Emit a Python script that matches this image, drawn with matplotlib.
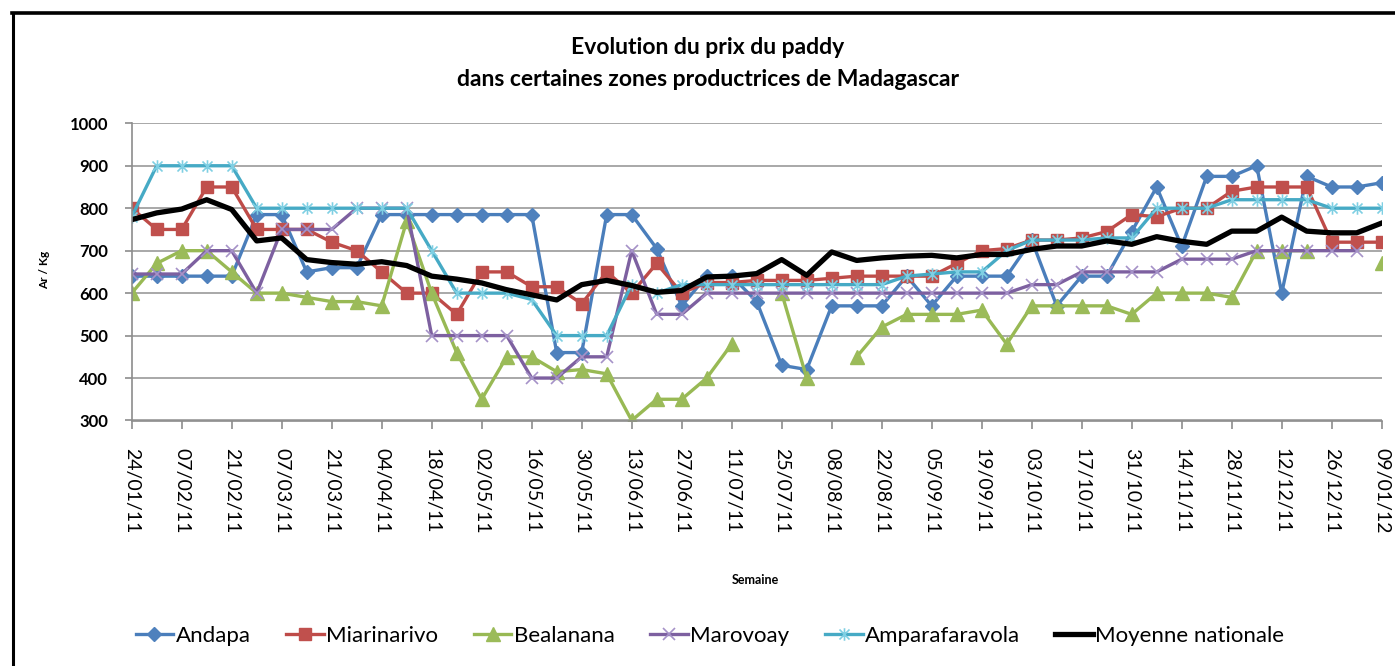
import numpy as np
import matplotlib
matplotlib.use("Agg")
import matplotlib.pyplot as plt
from matplotlib.path import Path
from matplotlib.lines import Line2D

plt.rcParams['font.family'] = ['Lato', 'DejaVu Sans']

weeks = ["24/01/11", "31/01/11", "07/02/11", "14/02/11", "21/02/11", "28/02/11", "07/03/11", "14/03/11",
         "21/03/11", "28/03/11", "04/04/11", "11/04/11", "18/04/11", "25/04/11", "02/05/11", "09/05/11",
         "16/05/11", "23/05/11", "30/05/11", "06/06/11", "13/06/11", "20/06/11", "27/06/11", "04/07/11",
         "11/07/11", "18/07/11", "25/07/11", "01/08/11", "08/08/11", "15/08/11", "22/08/11", "29/08/11",
         "05/09/11", "12/09/11", "19/09/11", "26/09/11", "03/10/11", "10/10/11", "17/10/11", "24/10/11",
         "31/10/11", "07/11/11", "14/11/11", "21/11/11", "28/11/11", "05/12/11", "12/12/11", "19/12/11",
         "26/12/11", "02/01/12", "09/01/12"]

nan = np.nan
andapa = [640, 640, 640, 640, 640, 785, 785, 650, 660, 660, 785, 785, 785, 785, 785, 785, 785, 460, 460, 785,
          785, 705, 570, 640, 640, 580, 430, 420, 570, 570, 570, 640, 570, 640, 640, 640, 725, 570, 640, 640,
          745, 850, 710, 875, 875, 900, 600, 875, 850, 850, 860]
miarinarivo = [800, 750, 750, 850, 850, 750, 750, 750, 720, 700, 650, 600, 600, 550, 650, 650, 615, 615, 575, 650,
               600, 670, 600, 625, 625, 630, 630, 630, 635, 640, 640, 640, 640, 670, 700, 705, 725, 725, 730, 745,
               785, 780, 800, 800, 840, 850, 850, 850, 720, 720, 720]
bealanana = [600, 670, 700, 700, 650, 600, 600, 590, 580, 580, 570, 770, 600, 460, 350, 450, 450, 415, 420, 410,
             300, 350, 350, 400, 480, nan, 600, 400, nan, 450, 520, 550, 550, 550, 560, 480, 570, 570, 570, 570,
             550, 600, 600, 600, 590, 700, 700, 700, nan, nan, 670]
marovoay = [645, 645, 645, 700, 700, 600, 750, 750, 750, 800, 800, 800, 500, 500, 500, 500, 400, 400, 450, 450,
            700, 550, 550, 600, 600, 600, 600, 600, 600, 600, 600, 600, 600, 600, 600, 600, 620, 620, 650, 650,
            650, 650, 680, 680, 680, 700, 700, 700, 700, 700, nan]
amparafaravola = [780, 900, 900, 900, 900, 800, 800, 800, 800, 800, 800, 800, 700, 600, 600, 600, 585, 500, 500, 500,
                  620, 600, 620, 620, 620, 620, 620, 620, 620, 620, 620, 640, 645, 650, 650, 700, 725, 725, 725, 730,
                  730, 800, 800, 800, 820, 820, 820, 820, 800, 800, 800]
moyenne = [773, 789, 798, 820, 797, 723, 730, 679, 672, 668, 674, 665, 640, 633, 624, 608, 596, 584, 620, 630,
           618, 602, 606, 638, 640, 646, 679, 642, 697, 677, 683, 687, 689, 683, 691, 691, 703, 711, 711, 723,
           715, 733, 722, 715, 746, 746, 779, 746, 742, 742, 765]

series_names = ["Andapa", "Miarinarivo", "Bealanana", "Marovoay", "Amparafaravola", "Moyenne nationale"]
yticks = [300, 400, 500, 600, 700, 800, 900, 1000]

W, H = 1395, 666
fig = plt.figure(figsize=(W / 100, H / 100), dpi=100)
ax = fig.add_axes([131.7 / W, 1 - 420.5 / H, (1381.7 - 131.7) / W, (420.5 - 123.3) / H])

x = np.arange(len(weeks))

star = Path([(0, -1), (0, 1), (-0.8, -0.8), (0.8, 0.8), (-0.8, 0.8), (0.8, -0.8)],
            [Path.MOVETO, Path.LINETO, Path.MOVETO, Path.LINETO, Path.MOVETO, Path.LINETO])

styles = [
    dict(color="#4A7EBB", marker="D", ms=7.5, mfc="#4F81BD", mec="#4F81BD", lw=2.4),
    dict(color="#BE4B48", marker="s", ms=9, mfc="#C0504D", mec="#C0504D", lw=2.4),
    dict(color="#98B954", marker="^", ms=9.5, mfc="#9BBB59", mec="#9BBB59", lw=2.4),
    dict(color="#7D60A0", marker="x", ms=8.5, mfc="none", mec="#A592C8", mew=1.2, lw=2.4),
    dict(color="#46AAC5", marker=star, ms=9, mfc="none", mec="#7FCFE3", mew=1.2, lw=2.4),
    dict(color="black", marker=None, lw=3.8),
]
data = [andapa, miarinarivo, bealanana, marovoay, amparafaravola, moyenne]
handles = []
for name, d, st in zip(series_names, data, styles):
    ln, = ax.plot(x, np.array(d, dtype=float), label=name, solid_joinstyle="round", **st)
    handles.append(ln)

ax.set_xlim(0, len(weeks) - 1)
ax.set_ylim(300, 1000)
ax.set_yticks(yticks)
ax.set_yticklabels([str(v) for v in yticks], fontweight="bold", fontsize=12)
ax.set_xticks(x[::2])
ax.set_xticklabels(weeks[::2], rotation=270, fontsize=14, va="top", ha="center")
ax.grid(axis="y", color="#9A9A9A", lw=1.2)
ax.set_axisbelow(True)
for s in ["top", "right"]:
    ax.spines[s].set_visible(False)
for s in ["left", "bottom"]:
    ax.spines[s].set_color("#8C8C8C")
    ax.spines[s].set_linewidth(1.2)
ax.tick_params(axis="y", length=5, color="#8C8C8C", width=1.2, pad=12)
ax.tick_params(axis="x", length=6, color="#8C8C8C", width=1.2, pad=14)

fig.text(45 / W, 1 - 270 / H, "Ar / Kg", rotation=90, fontsize=8.5, fontweight="bold", ha="center", va="center")
fig.text(755 / W, 1 - 580 / H, "Semaine", fontsize=9, fontweight="bold", ha="center", va="center")
fig.text(708 / W, 1 - 47 / H, "Evolution du prix du paddy", fontsize=16.5, fontweight="bold", ha="center", va="center")
fig.text(708 / W, 1 - 80 / H, "dans certaines zones productrices de Madagascar", fontsize=16.5, fontweight="bold",
         ha="center", va="center")

leg = fig.legend(handles=handles, labels=series_names, loc="center", bbox_to_anchor=(710 / W, 1 - 636 / H),
                 ncol=6, frameon=False, fontsize=16, handlelength=1.7, handletextpad=0.1, columnspacing=1.6,
                 numpoints=1)

fig.add_artist(Line2D([12.5 / W, 12.5 / W], [0, 1 - 12.5 / H], color="black", lw=2.2, transform=fig.transFigure))
fig.add_artist(Line2D([11.5 / W, 1], [1 - 12.5 / H, 1 - 12.5 / H], color="black", lw=2.6, transform=fig.transFigure))

fig.savefig("out.png", dpi=100)
